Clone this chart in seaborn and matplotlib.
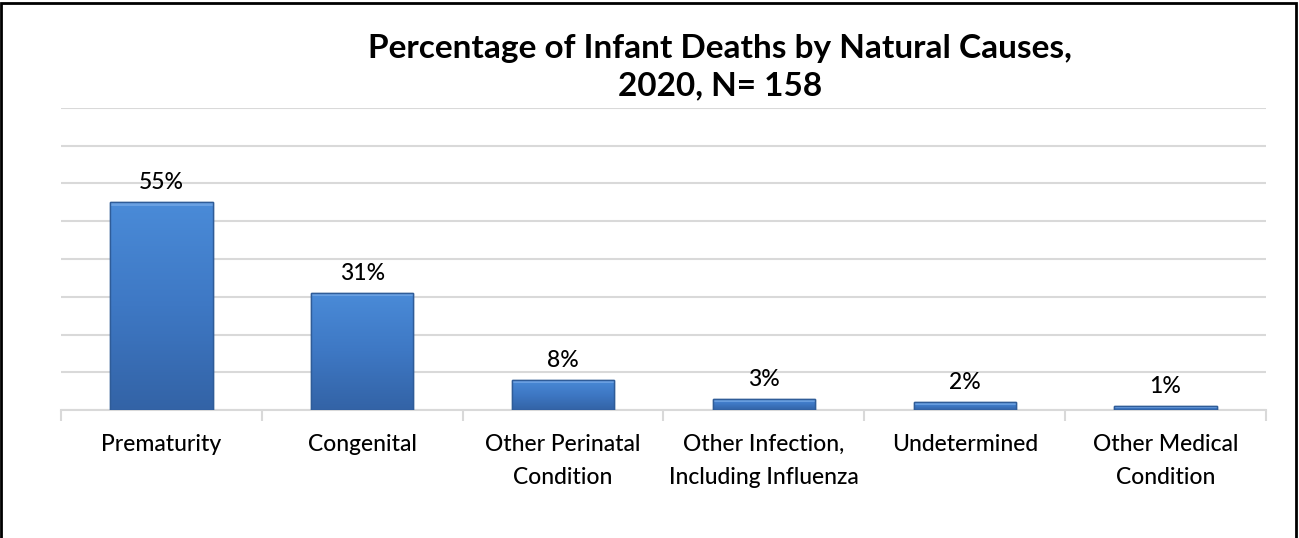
import numpy as np
import pandas as pd
import matplotlib
matplotlib.use("Agg")
import matplotlib.pyplot as plt
import seaborn as sns
from matplotlib.colors import LinearSegmentedColormap
from matplotlib.patches import Rectangle

categories = ["Prematurity", "Congenital", "Other Perinatal\nCondition",
              "Other Infection,\nIncluding Influenza", "Undetermined",
              "Other Medical\nCondition"]
values = [55, 31, 8, 3, 2, 1]
value_labels = ["55%", "31%", "8%", "3%", "2%", "1%"]
title_text = "Percentage of Infant Deaths by Natural Causes,\n2020, N= 158"

sns.set_theme(style="white")
plt.rcParams['font.family'] = ['Lato', 'DejaVu Sans']

fig = plt.figure(figsize=(12.99, 5.38), dpi=100)
ax = fig.add_axes([61/1299, 1-410/538, (1266-61)/1299, (410-108)/538])

df = pd.DataFrame({"cause": categories, "pct": values})
sns.barplot(data=df, x="cause", y="pct", ax=ax, color="#3F78C2",
            width=0.51, edgecolor="#2F5C98", linewidth=1.0, zorder=3)

# gradient fill clipped to the bars
cmap = LinearSegmentedColormap.from_list("g", ["#3363A6", "#3E78C4", "#4A8BD8"])
grad = np.linspace(0, 1, 256).reshape(-1, 1)
for p in ax.patches:
    x0, y0 = p.get_x(), p.get_y()
    w, h = p.get_width(), p.get_height()
    im = ax.imshow(grad, cmap=cmap, aspect="auto", origin="lower",
                   extent=[x0, x0 + w, y0, y0 + h], zorder=3.5)
    im.set_clip_path(p)
    # top bevel highlight
    ax.add_patch(Rectangle((x0, y0 + h - min(h * 0.4, 0.9)), w, min(h * 0.4, 0.9),
                           facecolor="#78AAE8", edgecolor="none", alpha=0.7, zorder=3.6))
    ax.add_patch(Rectangle((x0, y0), w, h, facecolor="none",
                           edgecolor="#2F5C98", linewidth=1.0, zorder=3.7))

for i, (v, lab) in enumerate(zip(values, value_labels)):
    ax.text(i, v + 5.2, lab, ha="center", va="center", fontsize=16.5,
            color="black", fontweight="medium", zorder=5)

ax.set_xlim(-0.5, 5.5)
ax.set_ylim(0, 80)
ax.set_yticks(np.arange(0, 81, 10))
ax.set_yticklabels([])
ax.yaxis.grid(True, color="#D9D9D9", linewidth=1.5, zorder=0)
ax.set_axisbelow(True)
for s in ["top", "right", "left"]:
    ax.spines[s].set_visible(False)
ax.spines["bottom"].set_color("#D9D9D9")
ax.spines["bottom"].set_linewidth(1.5)
ax.set_xlabel("")
ax.set_ylabel("")
ax.tick_params(axis="y", length=0)
ax.tick_params(axis="x", which="major", length=0, pad=17, labelsize=16.5,
               labelcolor="black")
ax.set_xticks(np.arange(-0.5, 6, 1), minor=True)
ax.tick_params(axis="x", which="minor", length=8, width=1.5, color="#D9D9D9",
               direction="out", bottom=True)
for t in ax.get_xticklabels():
    t.set_ha("center")
    t.set_va("top")
    t.set_multialignment("center")
    t.set_linespacing(1.75)
    t.set_fontweight("medium")

fig.text(720/1299, 1-67/538, title_text, ha="center", va="center",
         fontsize=24, fontweight="bold", linespacing=1.35, color="black")

# frame around figure
fig.add_artist(Rectangle((0.001, -0.01), 0.997, 1.005, transform=fig.transFigure,
                         facecolor="none", edgecolor="black", linewidth=2))

fig.savefig("out.png", dpi=100)
